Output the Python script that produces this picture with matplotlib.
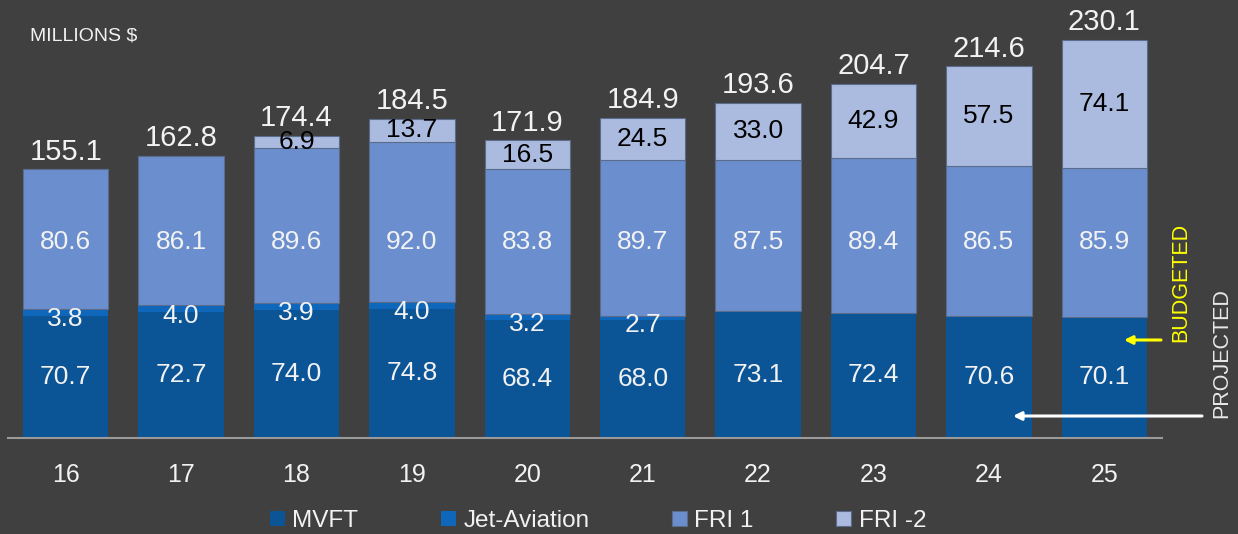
from matplotlib import pyplot as plt
import numpy as np

# данные
years = ['16', '17', '18', '19', '20', '21', '22', '23', '24', '25']
mvft = [70.7, 72.7, 74.0, 74.8, 68.4, 68.0, 73.1, 72.4, 70.6, 70.1]
jet = [3.8, 4.0, 3.9, 4.0, 3.2, 2.7, 0, 0, 0, 0]
fri1 = [80.6, 86.1, 89.6, 92.0, 83.8, 89.7, 87.5, 89.4, 86.5, 85.9]
fri2 = [0, 0, 6.9, 13.7, 16.5, 24.5, 33.0, 42.9, 57.5, 74.1]
totals = ['155.1', '162.8', '174.4', '184.5', '171.9', '184.9', '193.6', '204.7', '214.6', '230.1']

BG = '#404040'
TXT = '#f2f2f2'
colors = {'MVFT': '#0b5496', 'Jet-Aviation': '#0e67bb', 'FRI 1': '#6b8fce', 'FRI -2': '#abbbe0'}

plt.rcParams.update({
    "font.family": ['Liberation Sans', 'DejaVu Sans'],
})

fig = plt.figure(figsize=(12.38, 5.34), dpi=100, facecolor=BG)
ax = fig.add_axes([8 / 1238, 96 / 534, 1154 / 1238, 438 / 534])
ax.set_facecolor(BG)

x = np.arange(len(years))
w = 0.74
mvft = np.array(mvft)
jet = np.array(jet)
fri1 = np.array(fri1)
fri2 = np.array(fri2)

b1 = ax.bar(x, mvft, w, color=colors['MVFT'], label='MVFT')
b2 = ax.bar(x, jet, w, bottom=mvft, color=colors['Jet-Aviation'], label='Jet-Aviation')
b3 = ax.bar(x, fri1, w, bottom=mvft + jet, color=colors['FRI 1'], label='FRI 1',
            edgecolor='#5a6b8c', linewidth=0.8)
b4 = ax.bar(x, fri2, w, bottom=mvft + jet + fri1, color=colors['FRI -2'], label='FRI -2',
            edgecolor='#5a6b8c', linewidth=0.8)

# подписи FRI 1 стоят на одном уровне
fri1_level = np.min(mvft + jet + fri1 / 2)

for i in range(len(years)):
    ax.text(x[i], mvft[i] / 2, f"{mvft[i]:.1f}", ha='center', va='center',
            color=TXT, fontsize=19)
    if jet[i] > 0:
        ax.annotate(f"{jet[i]:.1f}", (x[i], mvft[i] + jet[i] / 2), xytext=(0, -5),
                    textcoords='offset points', ha='center', va='center',
                    color=TXT, fontsize=19)
    ax.text(x[i], fri1_level, f"{fri1[i]:.1f}", ha='center', va='center',
            color=TXT, fontsize=19)
    if fri2[i] > 0:
        ax.text(x[i], mvft[i] + jet[i] + fri1[i] + fri2[i] / 2, f"{fri2[i]:.1f}",
                ha='center', va='center', color='black', fontsize=19)
    top = mvft[i] + jet[i] + fri1[i] + fri2[i]
    ax.annotate(totals[i], (x[i], top), xytext=(0, 7), textcoords='offset points',
                ha='center', va='baseline', color=TXT, fontsize=21)

ax.set_xlim(-0.5, 9.5)
ax.set_ylim(0, 253)
ax.set_xticks(x)
ax.set_xticklabels(years, fontsize=18, color=TXT)
ax.tick_params(axis='x', length=0, pad=18)
ax.set_yticks([])
for s in ['top', 'left', 'right']:
    ax.spines[s].set_visible(False)
ax.spines['bottom'].set_color('#9a9a9a')
ax.spines['bottom'].set_linewidth(1.5)

fig.text(30 / 1238, 1 - 41 / 534, 'MILLIONS $', color=TXT, fontsize=14, va='baseline')

fig.legend(handles=[b1, b2, b3, b4], loc='center', bbox_to_anchor=(598 / 1238, 1 - 521 / 534),
           ncol=4, frameon=False, fontsize=17.5, labelcolor=TXT,
           handlelength=0.62, handleheight=0.62, handletextpad=0.3, columnspacing=3.4)

# стрелки BUDGETED / PROJECTED
fig.text(1181 / 1238, 1 - 282 / 534, 'BUDGETED', color='#ffff00', fontsize=15.5,
         rotation=90, ha='center', va='center')
fig.text(1222 / 1238, 1 - 353 / 534, 'PROJECTED', color='#e8e8e8', fontsize=15.5,
         rotation=90, ha='center', va='center')
ax.annotate('', xy=(1124 / 1238, 1 - 340 / 534), xytext=(1161 / 1238, 1 - 340 / 534),
            xycoords='figure fraction', textcoords='figure fraction',
            arrowprops=dict(arrowstyle='-|>', color='#ffff00', lw=2.2, mutation_scale=12,
                            shrinkA=0, shrinkB=0))
ax.annotate('', xy=(1013 / 1238, 1 - 416 / 534), xytext=(1202 / 1238, 1 - 416 / 534),
            xycoords='figure fraction', textcoords='figure fraction',
            arrowprops=dict(arrowstyle='-|>', color='white', lw=2.2, mutation_scale=12,
                            shrinkA=0, shrinkB=0))

fig.savefig('out.png', dpi=100, facecolor=BG)
